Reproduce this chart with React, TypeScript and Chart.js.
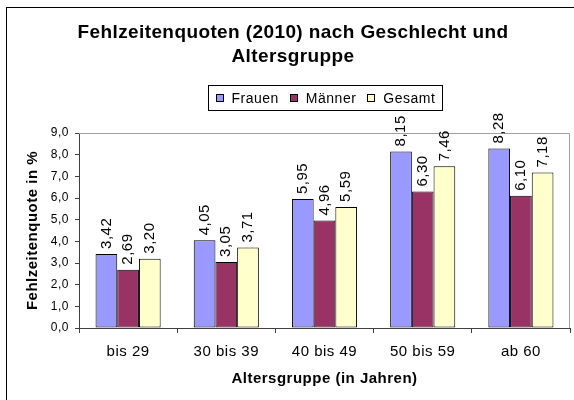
import React, { useEffect, useRef } from 'react';
import { Chart, registerables } from 'chart.js';

Chart.register(...registerables);

const categories = ['bis 29', '30 bis 39', '40 bis 49', '50 bis 59', 'ab 60'];
const seriesNames = ['Frauen', 'Männer', 'Gesamt'];
const frauen = [3.42, 4.05, 5.95, 8.15, 8.28];
const maenner = [2.69, 3.05, 4.96, 6.3, 6.1];
const gesamt = [3.2, 3.71, 5.59, 7.46, 7.18];
const seriesColors = ['#9999FF', '#993366', '#FFFFCC'];
const titleLines = ['Fehlzeitenquoten (2010) nach Geschlecht und', 'Altersgruppe'];
const xAxisTitle = 'Altersgruppe (in Jahren)';
const yAxisTitle = 'Fehlzeitenquote in %';
const yMin = 0;
const yMax = 9;
const yStep = 1;

const FONT = '"Liberation Sans", Arial, sans-serif';
const SPACING = '0.5px';

const fmt = (v: number, d: number) => v.toFixed(d).replace('.', ',');

const decorPlugin = {
  id: 'decor',
  beforeDraw(chart: any) {
    chart.ctx.letterSpacing = SPACING;
  },
  beforeDatasetsDraw(chart: any) {
    const { ctx, chartArea } = chart;
    ctx.save();
    ctx.strokeStyle = '#A0A0A0';
    ctx.lineWidth = 1;
    ctx.beginPath();
    ctx.moveTo(chartArea.left, chartArea.top + 0.5);
    ctx.lineTo(chartArea.right - 0.5, chartArea.top + 0.5);
    ctx.lineTo(chartArea.right - 0.5, chartArea.bottom);
    ctx.stroke();
    ctx.restore();
  },
  afterDatasetsDraw(chart: any) {
    const { ctx } = chart;
    ctx.save();
    ctx.letterSpacing = SPACING;
    ctx.font = `15px ${FONT}`;
    ctx.fillStyle = '#000';
    ctx.textAlign = 'left';
    ctx.textBaseline = 'middle';
    chart.data.datasets.forEach((ds: any, i: number) => {
      const meta = chart.getDatasetMeta(i);
      meta.data.forEach((bar: any, j: number) => {
        const v = ds.data[j];
        ctx.save();
        ctx.translate(bar.x, bar.y - 5);
        ctx.rotate(-Math.PI / 2);
        ctx.fillText(fmt(v, 2), 0, 0);
        ctx.restore();
      });
    });
    ctx.restore();
  },
  afterDraw(chart: any) {
    const { ctx } = chart;
    ctx.save();
    // outer frame
    ctx.strokeStyle = '#000';
    ctx.lineWidth = 1;
    ctx.strokeRect(6.5, 7.5, 1000, 1000);
    // title
    ctx.letterSpacing = '0.4px';
    ctx.fillStyle = '#000';
    ctx.font = `bold 19px ${FONT}`;
    ctx.textAlign = 'center';
    ctx.textBaseline = 'middle';
    ctx.fillText(titleLines[0], 293, 33);
    ctx.fillText(titleLines[1], 293, 57);
    // legend
    ctx.letterSpacing = SPACING;
    ctx.font = `14px ${FONT}`;
    ctx.textAlign = 'left';
    const marker = 8;
    const gapText = 8;
    const gapItem = 11;
    const pad = 7;
    const widths = chart.data.datasets.map((ds: any) => ctx.measureText(ds.label).width);
    let content = 0;
    widths.forEach((w: number, i: number) => {
      content += marker + gapText + w + (i < widths.length - 1 ? gapItem : 0);
    });
    const boxW = content + pad * 2;
    const cx = (chart.chartArea.left + chart.chartArea.right) / 2;
    const boxL = Math.round(cx - boxW / 2) + 0.5;
    const boxT = 85.5;
    const boxH = 25;
    ctx.fillStyle = '#fff';
    ctx.fillRect(boxL, boxT, boxW, boxH);
    ctx.strokeStyle = '#000';
    ctx.strokeRect(boxL, boxT, Math.round(boxW), boxH);
    let x = boxL + pad;
    const cy = boxT + boxH / 2;
    chart.data.datasets.forEach((ds: any, i: number) => {
      ctx.fillStyle = ds.backgroundColor;
      ctx.fillRect(Math.round(x), Math.round(cy - marker / 2), marker, marker);
      ctx.strokeStyle = '#000';
      ctx.strokeRect(Math.round(x) + 0.5, Math.round(cy - marker / 2) + 0.5, marker - 1, marker - 1);
      x += marker + gapText;
      ctx.fillStyle = '#000';
      ctx.fillText(ds.label, x, cy + 1);
      x += widths[i] + gapItem;
    });
    ctx.restore();
  },
};

export default function App() {
  const ref = useRef<HTMLCanvasElement | null>(null);
  useEffect(() => {
    if (!ref.current) return;
    const seriesData = [frauen, maenner, gesamt];
    const chart = new Chart(ref.current, {
      type: 'bar',
      data: {
        labels: categories,
        datasets: seriesNames.map((name, i) => ({
          label: name,
          data: seriesData[i],
          backgroundColor: seriesColors[i],
          borderColor: '#000',
          borderWidth: 1,
          borderSkipped: false,
          categoryPercentage: 0.663,
          barPercentage: 1.0,
        })),
      },
      options: {
        responsive: false,
        animation: false,
        devicePixelRatio: 1,
        layout: { padding: { left: 0, top: 133, right: 4, bottom: 0 } },
        plugins: {
          legend: { display: false },
          title: { display: false },
          tooltip: { enabled: false },
        },
        scales: {
          x: {
            type: 'category',
            grid: { display: true, drawOnChartArea: false, tickLength: 5, color: '#404040', offset: true },
            border: { display: true, color: '#404040' },
            ticks: { color: '#000', font: { family: FONT, size: 15 }, padding: 10 },
            title: {
              display: true,
              text: xAxisTitle,
              color: '#000',
              font: { family: FONT, size: 15, weight: 'bold' },
              padding: { top: 0, bottom: 12 },
            },
            afterFit: (s: any) => {
              s.height = 72;
            },
          },
          y: {
            min: yMin,
            max: yMax,
            grid: { display: true, drawOnChartArea: false, tickLength: 4, color: '#404040' },
            border: { display: true, color: '#404040' },
            ticks: {
              stepSize: yStep,
              color: '#000',
              font: { family: FONT, size: 12 },
              padding: 6,
              callback: (v: any) => fmt(Number(v), 1),
            },
            title: {
              display: true,
              text: yAxisTitle,
              color: '#000',
              font: { family: FONT, size: 15, weight: 'bold' },
              padding: { top: 24, bottom: 0 },
            },
            afterFit: (s: any) => {
              s.width = 79;
            },
          },
        },
      },
      plugins: [decorPlugin],
    } as any);
    return () => chart.destroy();
  }, []);
  return (
    <div style={{ position: 'absolute', left: 0, top: 0, width: 574, height: 400 }}>
      <canvas ref={ref} width={574} height={400} style={{ display: 'block', width: 574, height: 400 }} />
    </div>
  );
}
